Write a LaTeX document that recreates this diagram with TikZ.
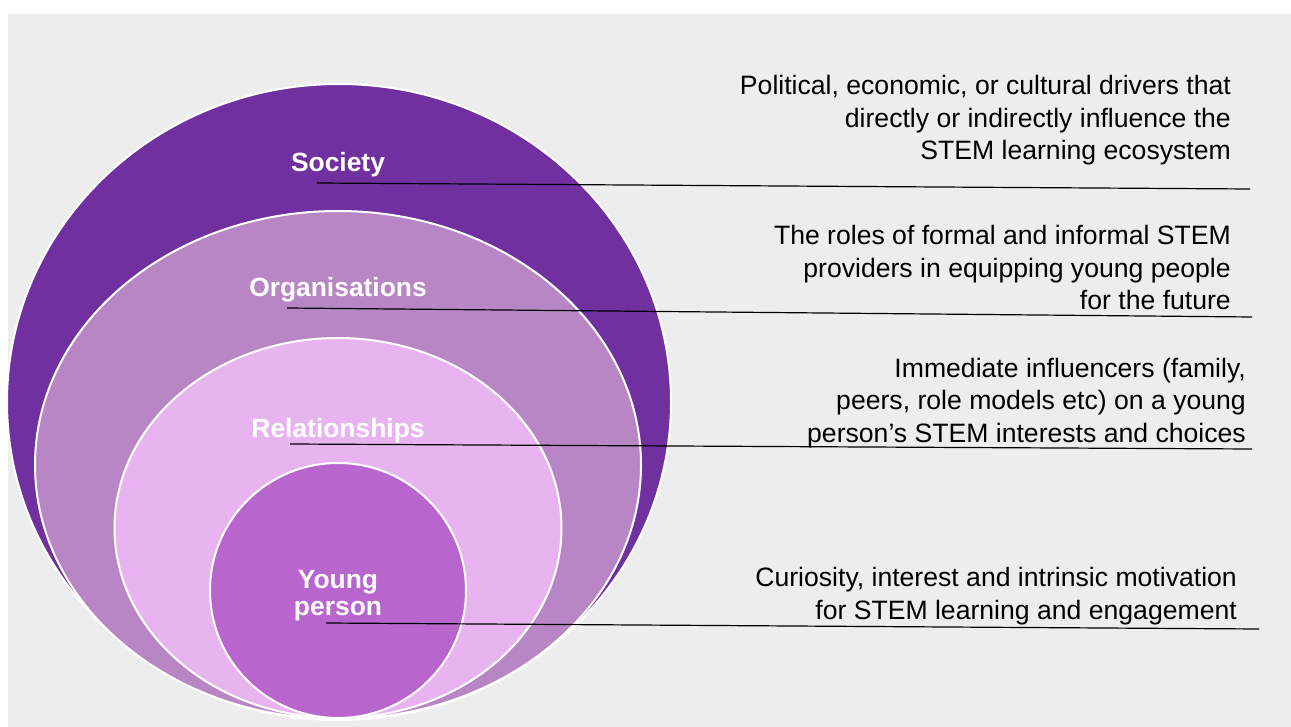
\documentclass[tikz,border=0pt]{standalone}
\usepackage{fontspec}
\setmainfont{Liberation Sans}
\usetikzlibrary{shapes.geometric}
\definecolor{bgc}{HTML}{EDEDED}
\definecolor{socc}{HTML}{7030A0}
\definecolor{orgc}{HTML}{B886C4}
\definecolor{relc}{HTML}{E8B4F0}
\definecolor{ypc}{HTML}{B865CE}
\begin{document}
\begin{tikzpicture}[x=1pt,y=-1pt,
  ring/.style={ellipse, draw=white, line width=2pt, inner sep=0pt},
  lbl/.style={text=white, font=\fontsize{26.4}{27}\selectfont\bfseries, inner sep=0pt, align=center, anchor=base},
  desc/.style={font=\fontsize{26.6}{32.5}\selectfont, inner sep=0pt, align=right, anchor=base east},
  lead/.style={draw=black, line width=1.2pt}]
\useasboundingbox (0,0) rectangle (1291,727);
\fill[white] (0,0) rectangle (1291,727);
\fill[bgc] (8,14) rectangle (1291,727);
% rings
\node[ring, fill=socc, minimum width=664pt, minimum height=636pt] (soc) at (339,402) {};
\node[ring, fill=orgc, minimum width=606pt, minimum height=508pt] (org) at (338,465) {};
\node[ring, fill=relc, minimum width=447pt, minimum height=380pt] (rel) at (338,528) {};
\node[ring, fill=ypc, minimum width=256pt, minimum height=255pt] (yp) at (338,590.5) {};
% leader coordinates
\coordinate (s1) at (317,183); \coordinate (e1) at (1250,189);
\coordinate (s2) at (287,308); \coordinate (e2) at (1252,317);
\coordinate (s3) at (290,444); \coordinate (e3) at (1252,449);
\coordinate (s4) at (326,623); \coordinate (e4) at (1259,629);
\draw[lead] (s1) -- (e1);
\draw[lead] (s2) -- (e2);
\draw[lead] (s3) -- (e3);
\draw[lead] (s4) -- (e4);
% labels (base = baseline of last line)
\node[lbl] (lsoc) at (338,172) {Society};
\node[lbl] (lorg) at (338,297) {Organisations};
\node[lbl] (lrel) at (338,437) {Relationships};
\node[lbl] (lyp) at (338,615) {Young\\person};
% descriptions (base = baseline of last line)
\node[desc] (dsoc) at (1231,160) {Political, economic, or cultural drivers that\\directly or indirectly influence the\\STEM learning ecosystem};
\node[desc] (dorg) at (1231,310) {The roles of formal and informal STEM\\providers in equipping young people\\for the future};
\node[desc] (drel) at (1246,442) {Immediate influencers (family,\\peers, role models etc) on a young\\person’s STEM interests and choices};
\node[desc] (dyp) at (1237,619) {Curiosity, interest and intrinsic motivation\\for STEM learning and engagement};
\end{tikzpicture}
\end{document}
